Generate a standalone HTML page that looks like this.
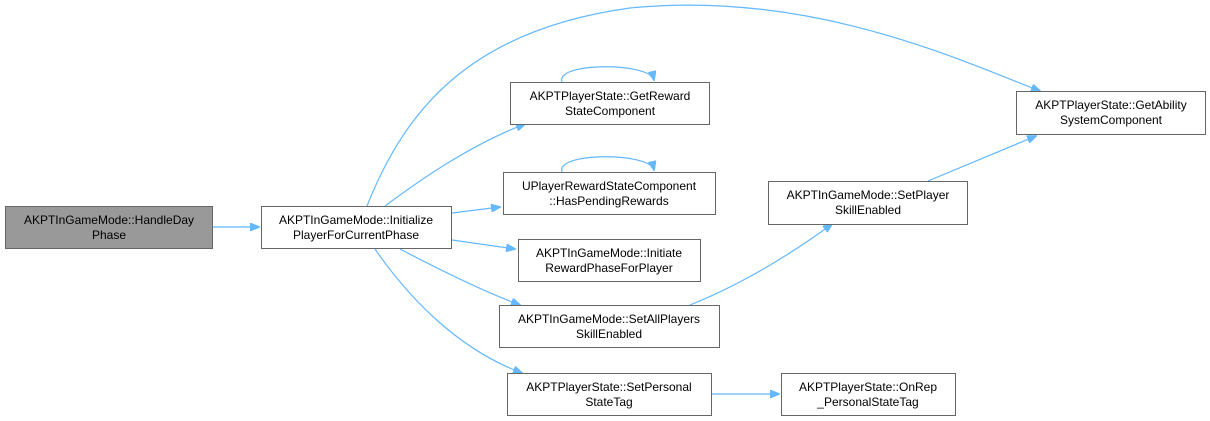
<!DOCTYPE html>
<html><head><meta charset="utf-8"><style>
html,body{margin:0;padding:0;background:#fff;width:1210px;height:421px;overflow:hidden}
text{font-family:"Liberation Sans",Arial,sans-serif;font-size:12px;fill:#000;text-anchor:middle}
.n{fill:#fff;stroke:#666;stroke-width:1}
.e{fill:none;stroke:#63b8ff;stroke-width:1.2}
.a{fill:#63b8ff;stroke:#63b8ff}
</style></head><body>
<svg width="1210" height="421" viewBox="0 0 1210 421" xmlns="http://www.w3.org/2000/svg">
<defs><marker id="m" markerWidth="10" markerHeight="8" refX="9" refY="4" orient="auto" markerUnits="userSpaceOnUse"><path d="M0,0 L10,4 L0,8z" class="a"/></marker></defs>
<path class="e" marker-end="url(#m)" d="M213,227 L259,227"/>
<path class="e" marker-end="url(#m)" d="M367,206 C405,110 470,30 630,8 C810,-10 960,60 1040,91"/>
<path class="e" marker-end="url(#m)" d="M385,206 C420,180 470,145 525,124"/>
<path class="e" marker-end="url(#m)" d="M452,213 L500,207"/>
<path class="e" marker-end="url(#m)" d="M452,240 L515,249"/>
<path class="e" marker-end="url(#m)" d="M400,249 C440,270 485,292 520,305"/>
<path class="e" marker-end="url(#m)" d="M375,249 C410,300 460,350 522,373"/>
<path class="e" marker-end="url(#m)" d="M562,82 C555,62 650,62 654,80"/>
<path class="e" marker-end="url(#m)" d="M562,172 C555,152 650,152 654,170"/>
<path class="e" marker-end="url(#m)" d="M690,305 C740,285 790,255 832,224"/>
<path class="e" marker-end="url(#m)" d="M928,181 L1036,136"/>
<path class="e" marker-end="url(#m)" d="M711,394 L779,394"/>
<rect x="5.5" y="206.5" width="207" height="42" fill="#999" stroke="#666"/>
<text x="109" y="224">AKPTInGameMode::HandleDay</text><text x="109" y="239">Phase</text>
<rect class="n" x="261.5" y="206.5" width="190" height="42"/>
<text x="356" y="224">AKPTInGameMode::Initialize</text><text x="356" y="239">PlayerForCurrentPhase</text>
<rect class="n" x="510.5" y="82.5" width="199" height="42"/>
<text x="610" y="100">AKPTPlayerState::GetReward</text><text x="610" y="115">StateComponent</text>
<rect class="n" x="503.5" y="172.5" width="212" height="42"/>
<text x="609" y="190">UPlayerRewardStateComponent</text><text x="609" y="205">::HasPendingRewards</text>
<rect class="n" x="518.5" y="239.5" width="182" height="42"/>
<text x="609" y="257">AKPTInGameMode::Initiate</text><text x="609" y="272">RewardPhaseForPlayer</text>
<rect class="n" x="499.5" y="305.5" width="220" height="42"/>
<text x="609" y="323">AKPTInGameMode::SetAllPlayers</text><text x="609" y="338">SkillEnabled</text>
<rect class="n" x="507.5" y="373.5" width="204" height="42"/>
<text x="609" y="391">AKPTPlayerState::SetPersonal</text><text x="609" y="406">StateTag</text>
<rect class="n" x="781.5" y="373.5" width="174" height="42"/>
<text x="868" y="391">AKPTPlayerState::OnRep</text><text x="868" y="406">_PersonalStateTag</text>
<rect class="n" x="768.5" y="181.5" width="199" height="43"/>
<text x="868" y="199">AKPTInGameMode::SetPlayer</text><text x="868" y="214">SkillEnabled</text>
<rect class="n" x="1016.5" y="91.5" width="189" height="43"/>
<text x="1111" y="109">AKPTPlayerState::GetAbility</text><text x="1111" y="124">SystemComponent</text>
</svg>
</body></html>
